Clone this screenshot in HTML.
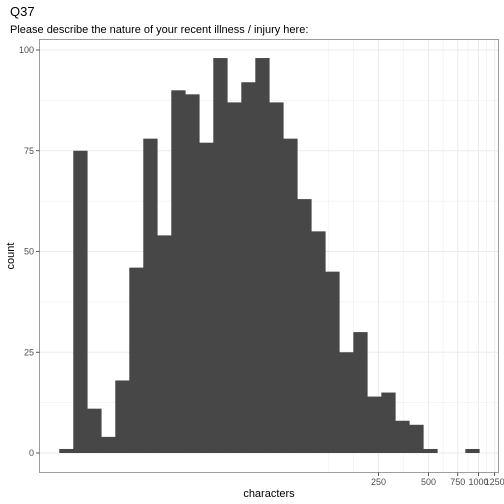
<!DOCTYPE html>
<html><head><meta charset="utf-8"><style>
html,body{margin:0;padding:0;background:#fff;}
svg{display:block;font-family:"Liberation Sans",Arial,sans-serif;}
</style></head><body>
<svg id="chart" width="504" height="504" viewBox="0 0 504 504">
<text x="10" y="16" font-size="13" fill="#000">Q37</text>
<text x="10" y="33" font-size="11" fill="#000">Please describe the nature of your recent illness / injury here:</text>
<rect x="39.5" y="39.5" width="459" height="433" fill="#fff"/>
<g id="grid"></g>
<g id="bars"></g>
<rect x="39.5" y="39.5" width="459" height="433" fill="none" stroke="#333" stroke-width="0.8" stroke-opacity="0.6"/>
<g id="axes"></g>
<text x="269" y="497" font-size="11" text-anchor="middle" fill="#000">characters</text>
<text x="14" y="256" font-size="11" text-anchor="middle" fill="#000" transform="rotate(-90 14 256)">count</text>
</svg>
<script>
const counts = [1,75,11,4,18,46,78,54,90,89,77,98,87,92,98,87,78,63,55,45,25,30,14,15,8,7,1,0,0,1];
const binStartLog = 0.476;
const binWidthLog = 0.0843;
const xTicks = [250,500,750,1000,1250];
const xMinor = [125,177,354,612,866,1118];
const yTicks = [0,25,50,75,100];
const yMinor = [12.5,37.5,62.5,87.5];

const NS = "http://www.w3.org/2000/svg";
function xs(logv){ return 378.5 + (logv - Math.log10(250)) * 166.1; }
function ys(c){ return 453 - c * 4.03; }
function mk(tag, attrs, parent){ const e=document.createElementNS(NS,tag); for(const k in attrs) e.setAttribute(k,attrs[k]); parent.appendChild(e); return e; }

const grid=document.getElementById('grid');
yMinor.forEach(v=>{
  const l=mk('line',{x1:40,x2:498,y1:ys(v),y2:ys(v),stroke:'#ebebeb','stroke-width':0.5},grid);
  
  
});
xMinor.forEach(v=>{
  const x=xs(Math.log10(v));
  const l=mk('line',{x1:x,x2:x,y1:40,y2:472,stroke:'#ebebeb','stroke-width':0.5},grid);
  
  
});
yTicks.forEach(v=>{
  const l=mk('line',{x1:40,x2:498,y1:ys(v),y2:ys(v),stroke:'#ebebeb','stroke-width':1},grid);
  
  
});
xTicks.forEach(v=>{
  const x=xs(Math.log10(v));
  const l=mk('line',{x1:x,x2:x,y1:40,y2:472,stroke:'#ebebeb','stroke-width':1},grid);
  
  
});

const bars=document.getElementById('bars');
counts.forEach((c,i)=>{
  if(c<=0) return;
  const x0=xs(binStartLog+i*binWidthLog), x1=xs(binStartLog+(i+1)*binWidthLog);
  const r=mk('rect',{x:x0,y:ys(c),width:x1-x0+0.3,height:ys(0)-ys(c),fill:'#474747'},bars);
  
  
});

const axes=document.getElementById('axes');
yTicks.forEach(v=>{
  const y=ys(v);
  const t=mk('line',{x1:36,x2:39.5,y1:y,y2:y,stroke:'#333','stroke-width':0.8},axes);
  
  
  const lb=mk('text',{x:34,y:y+3,'font-size':9,'text-anchor':'end',fill:'#4d4d4d'},axes);
  lb.textContent=v;
  
  
});
xTicks.forEach(v=>{
  const x=xs(Math.log10(v));
  const t=mk('line',{x1:x,x2:x,y1:472.5,y2:476,stroke:'#333','stroke-width':0.8},axes);
  
  
  const lb=mk('text',{x:x,y:485,'font-size':9,'text-anchor':'middle',fill:'#4d4d4d'},axes);
  lb.textContent=v;
  
  
});
</script>
</body></html>
